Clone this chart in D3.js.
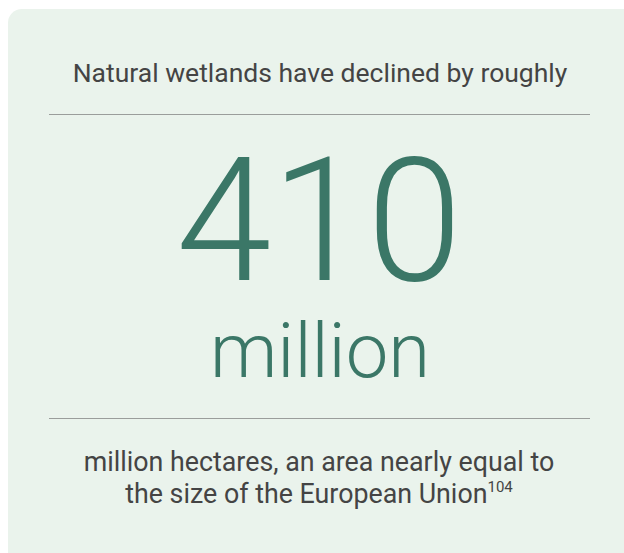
<!DOCTYPE html>
<html lang="en">
<head>
    <meta charset="UTF-8">
    <script src="https://d3js.org/d3.v7.min.js"></script>
    <title>Wetlands decline</title>
    <style>
        body { margin: 0; background: #fff; }
        text { font-family: Roboto, "Liberation Sans", sans-serif; }
    </style>
</head>
<body>
<div class="graph"></div>
<script>
    // card content
    var headline = ["Natural wetlands have declined by roughly"];
    var bigValue = [410];
    var unitLabel = ["million"];
    var footLines = ["million hectares, an area nearly equal to", "the size of the European Union"];
    var footRef = ["104"];

    var width = 624, height = 553;

    var svg = d3.select(".graph")
        .append("svg")
        .attr("width", width)
        .attr("height", height);

    // card background, runs off right and bottom
    svg.append("rect")
        .attr("x", 8)
        .attr("y", 9)
        .attr("width", 640)
        .attr("height", 580)
        .attr("rx", 14)
        .attr("fill", "#eaf3ec");

    var cx = 320;

    svg.selectAll(".head")
        .data(headline)
        .enter().append("text")
        .attr("class", "head")
        .attr("x", cx)
        .attr("y", 82)
        .attr("text-anchor", "middle")
        .attr("font-size", 26.5)
        .attr("fill", "#444")
        .text(function (d) { return d; });

    var rules = [114, 418];
    svg.selectAll(".rule")
        .data(rules)
        .enter().append("line")
        .attr("x1", 49)
        .attr("x2", 590)
        .attr("y1", function (d) { return d + 0.5; })
        .attr("y2", function (d) { return d + 0.5; })
        .attr("stroke", "#9a9d9b")
        .attr("stroke-width", 1);

    svg.selectAll(".big")
        .data(bigValue)
        .enter().append("text")
        .attr("class", "big")
        .attr("x", cx - 1)
        .attr("y", 280)
        .attr("text-anchor", "middle")
        .attr("font-size", 172)
        .attr("font-weight", 300)
        .attr("fill", "#3b7767")
        .text(function (d) { return d3.format("d")(d); });

    svg.selectAll(".unit")
        .data(unitLabel)
        .enter().append("text")
        .attr("class", "unit")
        .attr("x", cx)
        .attr("y", 377)
        .attr("text-anchor", "middle")
        .attr("font-size", 76)
        .attr("font-weight", 300)
        .attr("fill", "#3b7767")
        .text(function (d) { return d; });

    var foot = svg.append("text")
        .attr("x", cx)
        .attr("y", 471)
        .attr("text-anchor", "middle")
        .attr("font-size", 26.8)
        .attr("fill", "#444");

    foot.selectAll("tspan.line")
        .data(footLines)
        .enter().append("tspan")
        .attr("class", "line")
        .attr("x", cx - 1)
        .attr("dy", function (d, i) { return i ? 32 : 0; })
        .text(function (d) { return d; });

    foot.selectAll("tspan.ref")
        .data(footRef)
        .enter().append("tspan")
        .attr("class", "ref")
        .attr("font-size", 15)
        .attr("dy", -11)
        .text(function (d) { return d; });
</script>
</body>
</html>
